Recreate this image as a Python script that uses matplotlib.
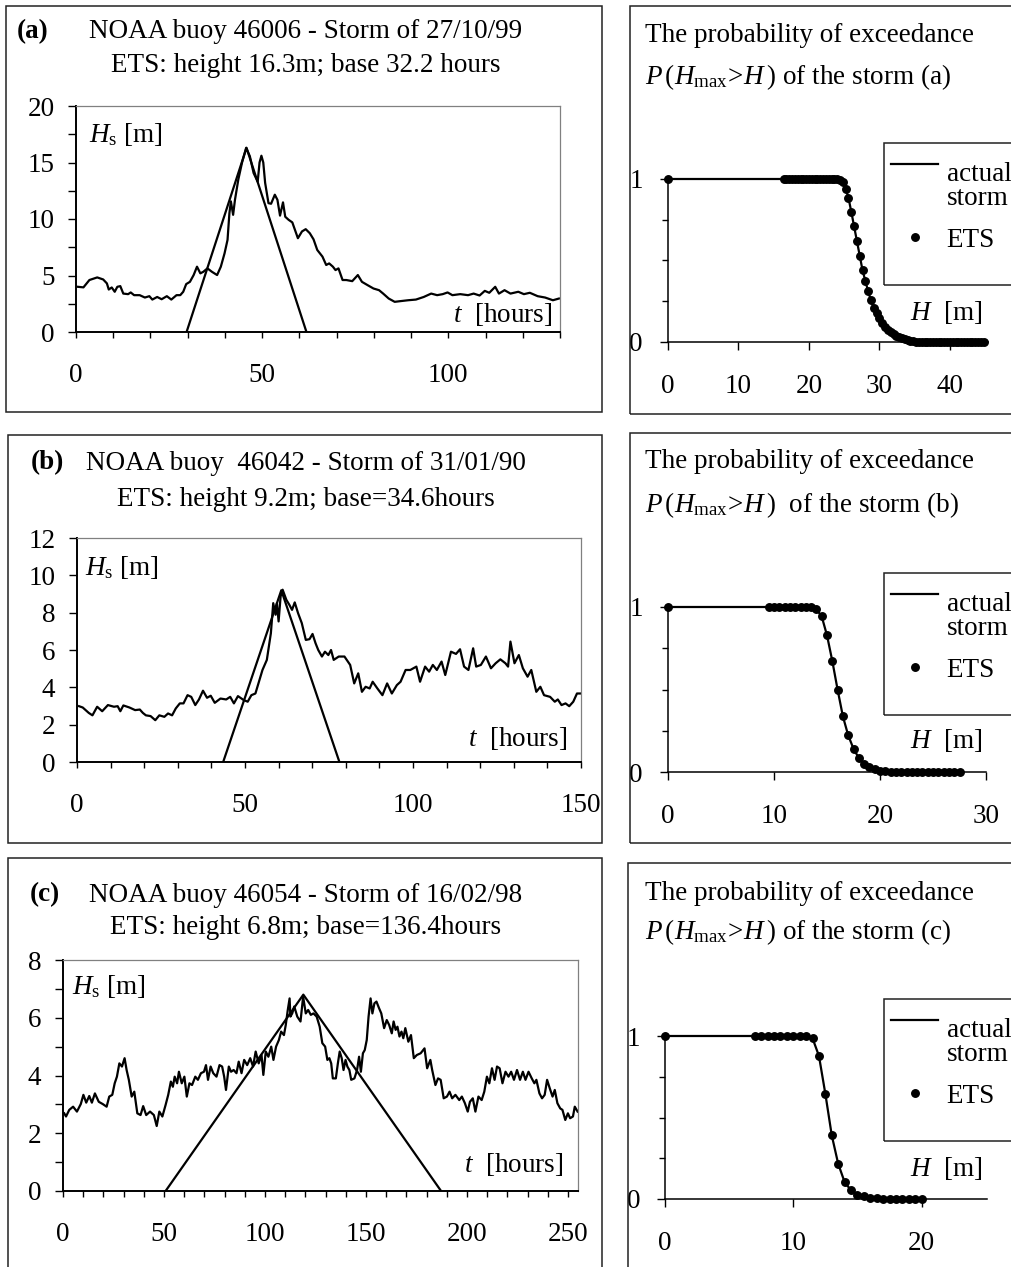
import numpy as np
import matplotlib
matplotlib.use('Agg')
import matplotlib.pyplot as plt
from matplotlib.patches import Rectangle
from matplotlib.legend_handler import HandlerLine2D

plt.rcParams['font.family'] = ['Liberation Serif', 'DejaVu Serif']
plt.rcParams['mathtext.fontset'] = 'custom'
plt.rcParams['mathtext.rm'] = 'Liberation Serif'
plt.rcParams['mathtext.it'] = 'Liberation Serif:italic'
plt.rcParams['mathtext.bf'] = 'Liberation Serif:bold'

# ---------------- data ----------------
# storm (a): NOAA buoy 46006
t_a = [0.5,2,3.6,5.7,7.3,8.3,8.8,9.6,10.4,11.1,
       11.9,12.7,14,14.7,15.6,17.1,18.5,19.7,20.5,21.8,
       23,24.4,25.6,27,28,28.8,29.6,30.6,31.6,32.5,
       33.4,34.2,35.3,36.5,37.9,38.9,39.9,40.7,41.2,41.6,
       42.2,42.7,43.6,44.6,45.7,46.7,47.7,48.8,49.3,49.8,
       50.3,50.8,51.7,52.4,53.4,54.1,54.8,55.6,56.2,57.1,
       58.1,59.6,60.7,61.7,62.8,63.8,64.8,66.2,67.2,68,
       69,69.7,70.5,71.6,72.6,74.2,75.7,76.8,78.3,79.9,
       81.4,82.5,84,85.6,87.1,89.2,91.3,93.4,95.4,97,
       98.5,99.8,101.1,103.2,105.3,106.8,108.4,109.8,111,112.6,
       113.6,115.1,116.7,118.8,120.3,121.9,124,126,128.1,129.7]
hs_a = [4.0,3.95,4.6,4.83,4.65,4.3,3.76,3.94,3.56,4.0,
        4.06,3.4,3.35,3.5,3.26,3.26,3.05,3.17,2.87,3.1,
        2.9,3.17,2.87,3.26,3.26,3.56,4.24,4.44,5.04,5.78,
        5.19,5.33,5.63,5.33,5.04,5.78,6.96,8.15,10.5,11.56,
        10.37,11.7,13.5,15.0,16.3,15.55,14.07,13.3,15.0,15.6,
        15.0,13.2,11.4,11.35,12.15,11.7,10.3,11.47,10.2,9.93,
        9.7,8.3,8.9,9.1,8.74,8.2,7.26,6.67,5.93,6.07,
        5.78,5.48,5.63,4.6,4.6,4.5,5.04,4.44,4.15,3.85,
        3.7,3.4,2.96,2.67,2.73,2.81,2.87,3.1,3.4,3.26,
        3.35,3.5,3.26,3.35,3.26,3.4,3.23,3.64,3.47,4.0,
        3.4,3.7,3.4,3.56,3.35,3.47,3.17,3.05,2.81,2.96]
ets_t_a = [29.7, 45.8, 61.9]
ets_h_a = [0.0, 16.3, 0.0]

# storm (b): NOAA buoy 46042
t_b = [0.6,1.7,3.5,4.6,6,7.5,9.2,11,12.1,12.9,
       13.8,15.6,17.3,18.7,19.6,20.5,21.9,23.3,24.5,26,
       27.1,28.3,29.4,30.6,31.7,32.9,34,35.2,36.3,37.5,
       38.7,39.8,41,42.7,44.4,45.6,46.7,47.9,49.6,50.8,
       51.9,53.1,54,55.2,56.5,57.7,58.4,59.1,59.5,60,
       60.6,61.2,62.3,63.2,64,64.8,65.8,66.9,68.1,69.2,
       70.1,71,71.8,72.9,73.8,74.8,75.6,76.4,77.9,79.6,
       81.3,82.5,83.7,84.8,85.9,87.1,88,89.4,90.9,92.3,
       93.7,95.2,96.3,97.8,99.2,101,102.1,103.6,104.8,105.9,
       107.1,108.5,109.6,111.3,112.8,114,115.2,116.5,117.9,118.8,
       120.2,121.7,123.2,124.6,126,127.5,128.3,129,130.2,131.5,
       132.7,134.1,135.2,136.7,137.9,139,140.8,142.2,143.1,144.2,
       145.4,146.5,147.7,148.8,150]
hs_b = [2.99,2.92,2.63,2.5,2.96,2.72,3.05,2.96,2.99,2.72,
        3.03,2.92,2.78,2.81,2.63,2.5,2.46,2.24,2.5,2.42,
        2.6,2.5,2.87,3.14,3.14,3.58,3.49,3.05,3.35,3.82,
        3.44,3.55,3.17,3.4,3.35,3.49,3.14,3.53,3.32,3.23,
        3.58,3.67,4.21,4.93,5.47,6.9,8.51,7.89,8.51,7.53,
        8.87,9.23,8.69,8.42,8.15,8.55,7.97,7.44,6.54,6.58,
        6.86,6.36,6.0,5.65,5.91,5.73,6.0,5.47,5.65,5.65,
        5.2,4.21,4.75,3.76,4.03,3.94,4.3,3.94,3.58,4.21,
        3.67,4.12,4.3,4.93,4.93,5.11,4.3,5.11,4.84,5.2,
        4.93,5.38,4.66,5.91,5.79,6.04,5.11,4.93,6.09,5.11,
        5.2,5.65,5.02,5.29,5.5,5.29,5.11,6.45,5.29,5.73,
        5.02,4.57,4.93,3.76,4.03,3.58,3.49,3.23,3.35,3.05,
        3.14,2.99,3.23,3.67,3.67]
ets_t_b = [43.5, 60.8, 78.1]
ets_h_b = [0.0, 9.2, 0.0]

# storm (c): NOAA buoy 46054
t_c = [0.6,1.5,3.1,5,6.9,8.8,10.1,11.5,13,14.3,
       15.8,17.7,19.7,21.6,22.9,24.4,25.6,26.7,27.9,29.2,
       30.5,31.5,32.6,34,35.3,36.8,38.4,39.7,41.2,43.1,
       45,46.4,47.7,49.2,50.8,52.1,53.4,54.4,55.3,56.5,
       57.4,58.8,60.1,61.3,62.6,63.9,65.5,66.8,68.3,69.8,
       70.8,71.8,73.1,74.4,76,77.5,78.8,79.8,80.7,82.1,
       83.2,84.5,85.9,87,88.4,89.7,91.2,92.7,94.1,95.4,
       96.9,98.3,99.2,100.4,101.7,103.1,104.2,105.5,106.9,108,
       109.4,110.3,111.3,112.2,112.6,113.5,114.5,116,117.6,118.9,
       120.2,121.4,122.7,124,125.6,127.1,128.4,129.8,130.9,131.9,
       132.8,133.6,135.1,136.1,137,138,138.9,139.9,140.8,141.8,
       142.7,144.3,145.6,146.6,147.5,148.5,149.4,150.4,151.3,152.3,
       153.2,154.2,155.2,156.5,157.6,159,160.3,161.5,162.8,163.7,
       164.7,165.6,166.6,167.6,168.5,169.5,171,172.3,173.7,175.2,
       177.1,179,180.3,181.9,182.8,184.4,185.7,187,188.5,190.1,
       191.4,192.7,194.3,196.2,197.5,199,200.4,201.5,202.9,204.2,
       205.7,207.3,208.6,209.9,211.1,212.4,213.7,214.9,216.2,217.6,
       219.1,220.6,221.9,223.3,224.8,226.3,227.7,229,230.5,232.1,
       233.4,234.4,235.9,237.2,238.5,239.7,241,242.4,243.5,244.8,
       246.2,247.3,248.7,250,251.1,252.5,253.4,254.8]
hs_c = [2.69,2.58,2.81,2.92,2.75,3.01,3.33,3.06,3.29,3.06,
        3.38,3.09,3.01,2.92,3.27,3.33,3.73,3.96,4.42,4.31,
        4.6,4.19,3.85,3.27,3.44,2.69,2.63,2.94,2.63,2.75,
        2.63,2.25,2.75,2.58,2.98,3.33,3.79,3.61,3.96,3.73,
        4.13,3.73,3.96,3.27,3.73,3.67,3.96,3.85,4.08,4.13,
        4.36,3.85,4.31,4.08,3.96,4.36,4.31,3.96,3.5,4.31,
        4.13,4.19,4.08,4.48,4.08,4.54,4.36,4.6,4.31,4.83,
        4.42,4.71,4.02,4.83,4.65,5.0,4.54,5.0,5.23,5.52,
        5.4,5.75,6.27,6.67,6.04,6.15,6.39,6.04,5.87,6.73,
        6.15,6.27,6.1,6.15,6.04,5.69,5.12,5.0,4.54,4.6,
        4.42,3.9,3.9,4.42,4.83,4.6,4.19,4.54,4.31,4.19,
        3.85,3.9,4.19,4.65,4.13,4.77,4.88,5.23,6.04,6.67,
        6.15,6.5,6.56,6.33,6.15,5.64,5.92,5.75,5.46,5.87,
        5.58,5.69,5.35,5.52,5.29,5.64,5.17,5.4,4.6,4.71,
        4.77,4.94,4.25,4.54,4.19,3.67,3.9,3.85,3.21,3.27,
        3.44,3.21,3.33,3.15,3.27,3.04,2.75,3.09,3.21,2.75,
        3.27,3.15,3.44,3.96,3.73,4.25,3.85,4.31,4.25,3.73,
        4.13,3.96,4.13,3.85,4.19,3.85,4.13,3.85,4.13,3.9,
        3.73,3.85,3.38,3.21,3.33,3.85,3.56,3.27,3.5,3.04,
        2.86,2.81,2.46,2.69,2.52,2.58,2.92,2.75]
ets_t_c = [50.8, 119.0, 187.2]
ets_h_c = [0.0, 6.8, 0.0]

# probability of exceedance P(Hmax > H)
pH_a = [0.0,
        16.4,16.8,17.2,17.6,18.0,18.4,18.8,19.2,19.6,20.0,
        20.4,20.8,21.2,21.6,22.0,22.4,22.8,23.2,23.6,24.0,
        24.4,24.8,25.2,25.6,26.0,26.4,26.8,27.2,27.6,28.0,
        28.4,28.8,29.2,29.6,30.0,30.4,30.8,31.2,31.6,32.0,
        32.4,32.8,33.2,33.6,34.0,34.4,34.8,35.2,35.6,36.0,
        36.4,36.8,37.2,37.6,38.0,38.4,38.8,39.2,39.6,40.0,
        40.4,40.8,41.2,41.6,42.0,42.4,42.8,43.2,43.6,44.0,
        44.4,44.8]
pP_a = [1.0,
        1,1,1,1,1,1,1,1,1,1,
        1,1,1,1,1,1,1,1,1,0.998,
        0.995,0.984,0.94,0.885,0.80,0.71,0.62,0.53,0.44,0.375,
        0.31,0.255,0.21,0.175,0.145,0.118,0.093,0.075,0.06,0.048,
        0.038,0.03,0.022,0.016,0.012,0.008,0.005,0.003,0.002,0.001,
        0,0,0,0,0,0,0,0,0,0,
        0,0,0,0,0,0,0,0,0,0,
        0,0]
pH_b = [0.0,
        9.5,10.0,10.5,11.0,11.5,12.0,12.5,13.0,13.5,14.0,
        14.5,15.0,15.5,16.0,16.5,17.0,17.5,18.0,18.5,19.0,
        19.5,20.0,20.5,21.0,21.5,22.0,22.5,23.0,23.5,24.0,
        24.5,25.0,25.5,26.0,26.5,27.0,27.5]
pP_b = [1.0,
        1,1,1,1,1,1,1,1,0.998,0.986,
        0.943,0.828,0.673,0.499,0.337,0.222,0.141,0.085,0.05,0.03,
        0.016,0.008,0.004,0.002,0.001,0,0,0,0,0,
        0,0,0,0,0,0,0]
pH_c = [0.0,
        7.0,7.5,8.0,8.5,9.0,9.5,10.0,10.5,11.0,11.5,
        12.0,12.5,13.0,13.5,14.0,14.5,15.0,15.5,16.0,16.5,
        17.0,17.5,18.0,18.5,19.0,19.5,20.0]
pP_c = [1.0,
        1,1,1,1,1,1,1,1,1,0.986,
        0.878,0.645,0.39,0.216,0.104,0.053,0.027,0.016,0.008,0.004,
        0.002,0.001,0,0,0,0,0]

# tick labels / texts
xt_a = [0, 50, 100]; yt_a = [0, 5, 10, 15, 20]
xt_b = [0, 50, 100, 150]; yt_b = [0, 2, 4, 6, 8, 10, 12]
xt_c = [0, 50, 100, 150, 200, 250]; yt_c = [0, 2, 4, 6, 8]
pxt_a = [0, 10, 20, 30, 40]; pxt_b = [0, 10, 20, 30]; pxt_c = [0, 10, 20]

title_a = ["NOAA buoy 46006 - Storm of 27/10/99", "ETS: height 16.3m; base 32.2 hours"]
title_b = ["NOAA buoy  46042 - Storm of 31/01/90", "ETS: height 9.2m; base=34.6hours"]
title_c = ["NOAA buoy 46054 - Storm of 16/02/98", "ETS: height 6.8m; base=136.4hours"]

# ---------------- figure ----------------
W, H = 1011, 1267
FS = 19.5
fig = plt.figure(figsize=(W / 100, H / 100), dpi=100)


def fx(px):
    return px / W


def fy(py):
    return 1 - py / H


def add_ax(l, t, r, b):
    return fig.add_axes([l / W, 1 - b / H, (r - l) / W, (b - t) / H])


def box(l, t, r, b):
    fig.patches.append(Rectangle((fx(l), fy(b)), (r - l) / W, (b - t) / H,
                                 transform=fig.transFigure, fill=False,
                                 edgecolor='#222222', lw=1.1, zorder=0))


def left_panel(rect, t, hs, et, eh, xlim, ylim, xt, yt, xminor, yminor):
    ax = add_ax(*rect)
    ax.plot(t, hs, color='black', lw=1.6, solid_joinstyle='round')
    ax.plot(et, eh, color='black', lw=1.6)
    ax.set_xlim(*xlim)
    ax.set_ylim(*ylim)
    for s in ('left', 'bottom'):
        ax.spines[s].set_linewidth(1.4)
        ax.spines[s].set_color('black')
    for s in ('top', 'right'):
        ax.spines[s].set_linewidth(0.9)
        ax.spines[s].set_color('#808080')
    ax.set_xticks(xt)
    ax.set_xticks(xminor, minor=True)
    ax.set_yticks(yt)
    ax.set_yticks(yminor, minor=True)
    ax.tick_params(axis='x', which='both', direction='out', length=4.5, width=1,
                   pad=18, labelsize=FS)
    ax.tick_params(axis='y', which='both', direction='out', length=5.5, width=1,
                   pad=10, labelsize=FS)
    return ax


class UpLine(HandlerLine2D):
    def __init__(self, dy, **kw):
        super().__init__(**kw)
        self.dy = dy

    def create_artists(self, legend, orig_handle, xdescent, ydescent, width,
                       height, fontsize, trans):
        arts = super().create_artists(legend, orig_handle, xdescent, ydescent,
                                      width, height, fontsize, trans)
        for a in arts:
            y = np.asarray(a.get_ydata(), float)
            a.set_ydata(y + self.dy * fontsize)
        return arts


def right_panel(rect, pH, pP, xmax, xt, leg_top):
    ax = add_ax(*rect)
    ln, = ax.plot(pH, pP, color='black', lw=1.6, clip_on=False, zorder=3)
    dots, = ax.plot(pH, pP, 'o', color='black', ms=5.4, ls='none',
                    clip_on=False, zorder=4)
    ax.set_xlim(0, xmax)
    ax.set_ylim(0, 1)
    for s in ('top', 'right'):
        ax.spines[s].set_visible(False)
    for s in ('left', 'bottom'):
        ax.spines[s].set_linewidth(1.1)
    ax.set_xticks(xt)
    ax.set_yticks([0, 1])
    ax.set_yticks([0.25, 0.5, 0.75], minor=True)
    ax.tick_params(axis='x', which='major', direction='out', length=6, width=1,
                   pad=17, labelsize=FS)
    ax.tick_params(axis='y', which='major', direction='out', length=6, width=1,
                   pad=12, labelsize=FS)
    ax.tick_params(axis='y', which='minor', direction='out', length=4.5, width=1)
    # legend
    box(884, leg_top, 1030, leg_top + 142)
    leg = ax.legend([ln, dots], ['actual\nstorm', 'ETS'], loc='upper left',
                    bbox_to_anchor=(fx(891), fy(leg_top + 19)),
                    bbox_transform=fig.transFigure, frameon=False,
                    borderpad=0, borderaxespad=0, handlelength=1.75,
                    handletextpad=0.3, labelspacing=0.61, fontsize=FS,
                    handler_map={ln: UpLine(0.85)})
    for tx in leg.get_texts():
        tx.set_linespacing(0.95)
    return ax


# panel frames
box(6, 6, 602, 412)
box(630, 6, 1030, 414)
box(8, 435, 602, 843)
box(630, 433, 1030, 843)
box(8, 858, 602, 1290)
box(628, 863, 1030, 1290)

# left panels
axa = left_panel((76, 106, 560, 332), t_a, hs_a, ets_t_a, ets_h_a, (0, 130), (0, 20),
                 xt_a, yt_a, list(range(0, 131, 10)), [2.5, 7.5, 12.5, 17.5])
axb = left_panel((77, 538, 581, 762), t_b, hs_b, ets_t_b, ets_h_b, (0, 150), (0, 12),
                 xt_b, yt_b, list(range(0, 151, 10)), [])
axc = left_panel((63, 960, 578, 1191), t_c, hs_c, ets_t_c, ets_h_c, (0, 255), (0, 8),
                 xt_c, yt_c, list(range(0, 251, 10)), [1, 3, 5, 7])

# right panels
right_panel((668, 179, 988, 342), pH_a, pP_a, 45.4, pxt_a, 143)
right_panel((668, 607, 986, 772), pH_b, pP_b, 30, pxt_b, 573)
right_panel((665, 1036, 987, 1199), pH_c, pP_c, 25.1, pxt_c, 999)

# titles of left panels
for lab, lx, titles, y1, y2 in (("(a)", 17, title_a, 32, 65),
                                ("(b)", 31, title_b, 463, 500),
                                ("(c)", 30, title_c, 895, 927)):
    fig.text(fx(lx), fy(y1), lab, fontsize=FS, fontweight='bold', ha='left', va='center')
    fig.text(fx(306), fy(y1), titles[0], fontsize=FS, ha='center', va='center')
    fig.text(fx(306), fy(y2), titles[1], fontsize=FS, ha='center', va='center')

# axis labels inside left panels
for hx, hy, tx, ty in ((89, 135, 552, 315), (85, 567, 567, 738), (72, 987, 563, 1165)):
    fig.text(fx(hx), fy(hy), r'$H_{\mathrm{s}}$ [m]', fontsize=FS, ha='left', va='center')
    fig.text(fx(tx), fy(ty), r'$t$  [hours]', fontsize=FS, ha='right', va='center')

# titles of right panels
for lab, y1, y2, sep in (("(a)", 35, 77, " "), ("(b)", 462, 505, "  "), ("(c)", 893, 932, " ")):
    fig.text(fx(645), fy(y1), "The probability of exceedance", fontsize=FS,
             ha='left', va='center')
    fig.text(fx(645), fy(y2), r'$P\,(H_{\mathrm{max}}\!>\!H\,)$' + sep + 'of the storm ' + lab,
             fontsize=FS, ha='left', va='center')

for hy in (313, 740, 1168):
    fig.text(fx(983), fy(hy), r'$H$  [m]', fontsize=FS, ha='right', va='center')

fig.savefig('out.png', dpi=100)
